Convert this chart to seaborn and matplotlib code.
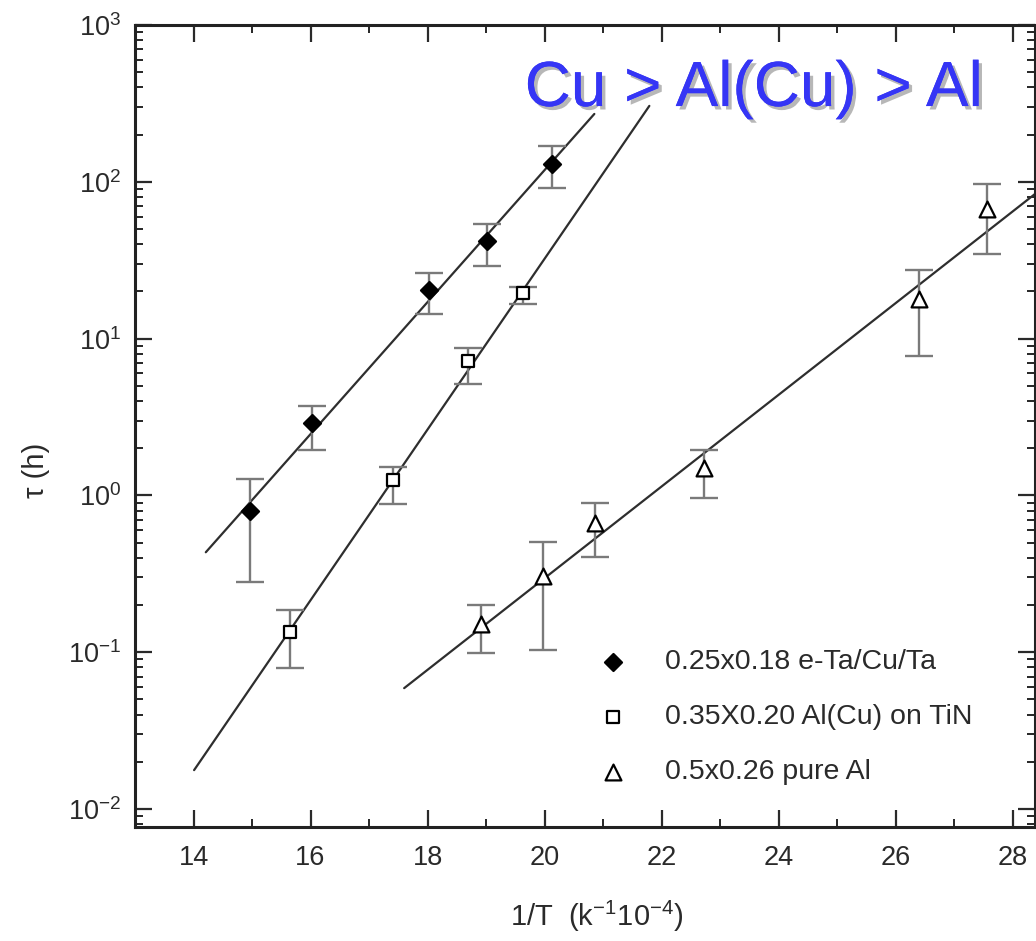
import numpy as np
import pandas as pd
import matplotlib
matplotlib.use("Agg")
import matplotlib.pyplot as plt
import seaborn as sns
from matplotlib import patheffects as pe
from matplotlib.ticker import MultipleLocator, LogLocator, LogFormatterMathtext, NullFormatter, FixedLocator

# ---- data ----
labels = ["0.25x0.18 e-Ta/Cu/Ta", "0.35X0.20 Al(Cu) on TiN", "0.5x0.26 pure Al"]

cu_x = [14.97, 16.03, 18.03, 19.02, 20.13]
cu_y = [0.79, 2.88, 20.5, 42.1, 130]
cu_lo = [0.28, 1.94, 14.4, 29.2, 91.6]
cu_hi = [1.28, 3.74, 26.3, 54.0, 170]

alcu_x = [15.65, 17.41, 18.69, 19.63]
alcu_y = [0.134, 1.25, 7.24, 19.4]
alcu_lo = [0.079, 0.88, 5.17, 16.7]
alcu_hi = [0.185, 1.51, 8.77, 21.4]

al_x = [18.91, 19.97, 20.86, 22.73, 26.40, 27.56]
al_y = [0.151, 0.305, 0.663, 1.49, 18.0, 67.3]
al_lo = [0.0986, 0.103, 0.403, 0.957, 7.8, 34.8]
al_hi = [0.199, 0.502, 0.89, 1.94, 27.5, 97]

# fitted lines (end points)
cu_fit_x = [14.21, 20.85]
cu_fit_y = [0.434, 271]
alcu_fit_x = [14.01, 21.79]
alcu_fit_y = [0.0177, 305]
al_fit_x = [17.6, 28.6]
al_fit_y = [0.059, 97]

x_ticks = [14, 16, 18, 20, 22, 24, 26, 28]
title_text = "Cu > Al(Cu) > Al"

# ---- style ----
sns.set_theme(style="ticks")
plt.rcParams["font.family"] = ["Liberation Sans", "DejaVu Sans"]
plt.rcParams["mathtext.fontset"] = "custom"
plt.rcParams["mathtext.rm"] = "Liberation Sans"
plt.rcParams["mathtext.it"] = "Liberation Sans:italic"
plt.rcParams["mathtext.default"] = "regular"

fig = plt.figure(figsize=(10.36, 9.41), dpi=100)
ax = fig.add_axes([0.1303, 0.1211, 0.8687, 0.8523])

txt_col = "#2a2a2a"
line_col = "#2e2e2e"
err_col = "#7a7a7a"

series = [
    (cu_x, cu_y, cu_lo, cu_hi, cu_fit_x, cu_fit_y, "D", "black", 75, labels[0]),
    (alcu_x, alcu_y, alcu_lo, alcu_hi, alcu_fit_x, alcu_fit_y, "s", "white", 80, labels[1]),
    (al_x, al_y, al_lo, al_hi, al_fit_x, al_fit_y, "^", "white", 130, labels[2]),
]

for xs, ys, lo, hi, fx, fy, mk, fc, sz, lab in series:
    fit_df = pd.DataFrame({"x": fx, "y": fy})
    sns.lineplot(data=fit_df, x="x", y="y", ax=ax, color=line_col, lw=1.6,
                 legend=False, zorder=2)
    yerr = [np.array(ys) - np.array(lo), np.array(hi) - np.array(ys)]
    ax.errorbar(xs, ys, yerr=yerr, fmt="none", ecolor=err_col, elinewidth=1.7,
                capsize=10, capthick=1.7, zorder=3)
    df = pd.DataFrame({"x": xs, "y": ys})
    sns.scatterplot(data=df, x="x", y="y", ax=ax, marker=mk, s=sz,
                    facecolor=fc, edgecolor="black", linewidth=1.6,
                    label=lab, zorder=4)

ax.set_yscale("log")
ax.set_xlim(13.0, 28.38)
ax.set_ylim(10 ** -2.115, 1e3)

ax.xaxis.set_major_locator(FixedLocator(x_ticks))
ax.xaxis.set_minor_locator(MultipleLocator(1))
ax.yaxis.set_major_locator(LogLocator(base=10, numticks=10))
ax.yaxis.set_minor_locator(LogLocator(base=10, subs=np.arange(2, 10), numticks=20))
ax.yaxis.set_major_formatter(LogFormatterMathtext())
ax.yaxis.set_minor_formatter(NullFormatter())

ax.tick_params(which="major", direction="in", length=12, width=1.6,
               top=True, right=True, labelsize=19.5, colors=txt_col, pad=10)
ax.tick_params(axis="x", which="major", pad=13)
ax.tick_params(which="minor", direction="in", length=6, width=1.4,
               top=True, right=True)
for sp in ax.spines.values():
    sp.set_linewidth(2.2)
    sp.set_color("#222222")

ax.set_xlabel("1/T  (k$^{-1}$10$^{-4}$)", fontsize=21, color=txt_col)
ax.set_ylabel("τ (h)", fontsize=21, color=txt_col)
ax.xaxis.set_label_coords(0.513, -0.089)
ax.yaxis.set_label_coords(-0.094, 0.445)

leg = ax.legend(loc="upper left", bbox_to_anchor=(0.503, 0.236), frameon=False,
                fontsize=20.5, handlelength=1.0, handletextpad=1.3,
                labelspacing=1.02, borderaxespad=0)
for t in leg.get_texts():
    t.set_color(txt_col)

ax.text(0.433, 0.899, title_text, transform=ax.transAxes, fontsize=46,
        color="#3535f5", ha="left", va="baseline", zorder=6,
        path_effects=[pe.withSimplePatchShadow(offset=(2.5, -2.5),
                                               shadow_rgbFace="#888888", alpha=0.6),
                      pe.Normal()])

fig.savefig("out.png", dpi=100)
